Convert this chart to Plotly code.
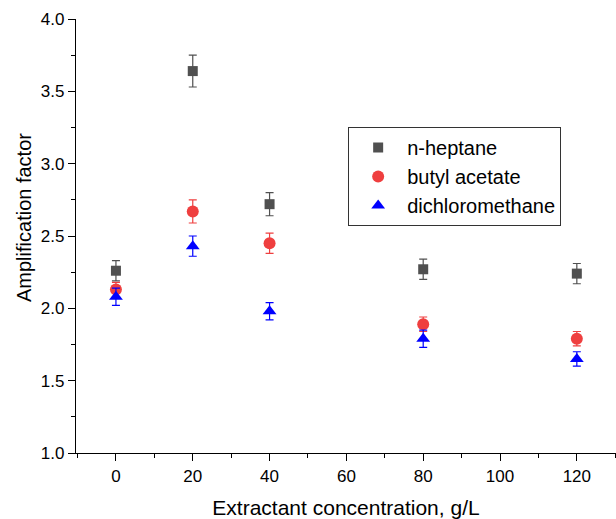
import plotly.graph_objects as go

conc = [0, 20, 40, 80, 120]
heptane = [2.26, 3.64, 2.72, 2.27, 2.24]
heptane_err = [0.07, 0.11, 0.08, 0.07, 0.07]
butyl = [2.13, 2.67, 2.45, 1.89, 1.79]
butyl_err = [0.05, 0.08, 0.07, 0.05, 0.05]
dcm = [2.08, 2.43, 1.98, 1.79, 1.65]
dcm_err = [0.06, 0.07, 0.06, 0.06, 0.05]

series = [
    ("n-heptane", heptane, heptane_err, "#505050", "square", 10),
    ("butyl acetate", butyl, butyl_err, "#ef3f3f", "circle", 12),
    ("dichloromethane", dcm, dcm_err, "#0000ff", "triangle-up", 12),
]

FONT = "Liberation Sans, Arial"

fig = go.Figure()
for name, y, e, c, sym, sz in series:
    fig.add_trace(go.Scatter(
        x=conc, y=y, name=name, mode="markers",
        marker=dict(symbol=sym, color=c, size=sz, line=dict(width=0)),
        error_y=dict(type="data", array=e, visible=True, color=c, thickness=1.2, width=4),
    ))

axis_common = dict(
    showline=True, linecolor="black", linewidth=1.2, ticks="outside", ticklen=7,
    tickcolor="black", showgrid=False, zeroline=False, mirror=False,
    tickfont=dict(family=FONT, size=17, color="#000"),
)
fig.update_xaxes(range=[-10.4, 130.2], tickvals=[0, 20, 40, 60, 80, 100, 120],
                 minor=dict(ticks="outside", ticklen=4, dtick=10, tick0=0, tickcolor="black", showgrid=False),
                 title=dict(text="Extractant concentration, g/L", font=dict(family=FONT, size=21, color="#000"), standoff=19),
                 **axis_common)
fig.update_yaxes(range=[1.0, 4.0], tickvals=[1.0, 1.5, 2.0, 2.5, 3.0, 3.5, 4.0], tickformat=".1f",
                 minor=dict(ticks="outside", ticklen=4, dtick=0.25, tick0=1.0, tickcolor="black", showgrid=False),
                 **axis_common)

fig.add_annotation(text="Amplification factor", textangle=-90, xref="paper", yref="paper",
                   x=0, y=(453 - 218) / 434, xshift=-52, showarrow=False,
                   font=dict(family=FONT, size=20, color="#000"), xanchor="center", yanchor="middle")

fig.update_layout(
    width=616, height=519,
    margin=dict(l=76, r=0, t=19, b=66),
    plot_bgcolor="white", paper_bgcolor="white",
    legend=dict(x=0.504, y=0.751, xanchor="left", yanchor="top",
                bordercolor="#333", borderwidth=1, bgcolor="white",
                font=dict(family=FONT, size=20, color="#000"),
                itemwidth=48, tracegroupgap=0),
    showlegend=True,
)
fig.write_html("out.html")
